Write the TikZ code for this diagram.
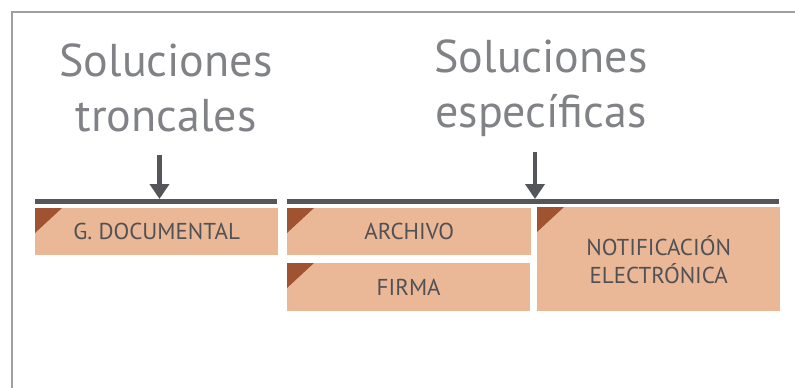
\documentclass[tikz,border=0pt]{standalone}
\usepackage{fontspec}
\setmainfont{PT Sans}
\usetikzlibrary{arrows.meta}

\definecolor{titlegray}{RGB}{128,130,133}
\definecolor{textgray}{RGB}{80,81,84}
\definecolor{bargray}{RGB}{85,86,90}
\definecolor{salmon}{RGB}{235,184,151}
\definecolor{rust}{RGB}{160,83,48}
\definecolor{framegray}{RGB}{160,160,160}

\tikzset{
    title/.style={text=titlegray, align=center, inner sep=0pt,
        font=\fontsize{46}{55}\selectfont},
    solbox/.style={rectangle, fill=salmon, anchor=north west, inner sep=0pt,
        text=textgray, align=center, font=\fontsize{23}{28}\selectfont},
    bar/.style={rectangle, fill=bargray, anchor=north west, inner sep=0pt,
        minimum height=5pt}
}

\begin{document}
\begin{tikzpicture}[x=1pt, y=-1pt]

\useasboundingbox (0,0) rectangle (795,388);
\draw[framegray, line width=2pt] (12,388) -- (12,12) -- (795,12);

\node (ttronc) at (166,88) [title] {Soluciones\\troncales};
\node (tespec) at (541,88) [title] {Soluciones\\específicas};

\node (bar1) at (35,199) [bar, minimum width=242pt] {};
\node (bar2) at (287,199) [bar, minimum width=492pt] {};

\begin{scope}[every node/.style={solbox}]
    \node (doc) at (35,208) [minimum width=243pt, minimum height=47pt] {G. DOCUMENTAL};
    \node (arch) at (287,208) [minimum width=244pt, minimum height=47pt] {ARCHIVO};
    \node (firma) at (287,263) [minimum width=243pt, minimum height=48pt] {FIRMA};
    \node (notif) at (537,207) [minimum width=243pt, minimum height=104pt] {NOTIFICACIÓN\\ELECTRÓNICA};
\end{scope}

\foreach \b in {doc, arch, firma, notif}
    \fill[rust] (\b.north west) -- ++(27,0) -- ++(-27,25) -- cycle;

\coordinate (from1) at (159.5,155);
\coordinate (from2) at (535,152);
\begin{scope}[>={Triangle[width=19pt, length=15pt]}, every edge/.style={draw=bargray, line width=4.5pt}]
    \path [->] (from1) edge (from1 |- bar1.north);
    \path [->] (from2) edge (from2 |- bar2.north);
\end{scope}

\end{tikzpicture}
\end{document}
